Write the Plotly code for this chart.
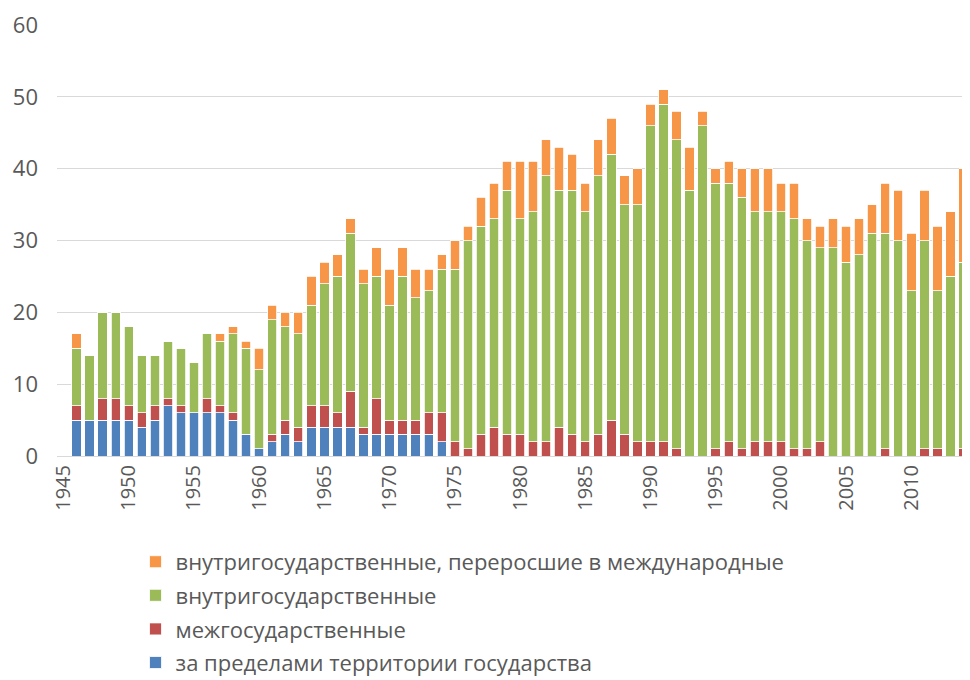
import plotly.graph_objects as go

years = list(range(1946, 2015))

# за пределами территории государства
extrastate = [5, 5, 5, 5, 5, 4, 5, 7, 6, 6, 6, 6, 5, 3, 1, 2, 3, 2, 4, 4,
              4, 4, 3, 3, 3, 3, 3, 3, 2, 0, 0, 0, 0, 0, 0, 0, 0, 0, 0, 0,
              0, 0, 0, 0, 0, 0, 0, 0, 0, 0, 0, 0, 0, 0, 0, 0, 0, 0, 0, 0,
              0, 0, 0, 0, 0, 0, 0, 0, 0]
# межгосударственные
interstate = [2, 0, 3, 3, 2, 2, 2, 1, 1, 0, 2, 1, 1, 0, 0, 1, 2, 2, 3, 3,
              2, 5, 1, 5, 2, 2, 2, 3, 4, 2, 1, 3, 4, 3, 3, 2, 2, 4, 3, 2,
              3, 5, 3, 2, 2, 2, 1, 0, 0, 1, 2, 1, 2, 2, 2, 1, 1, 2, 0, 0,
              0, 0, 1, 0, 0, 1, 1, 0, 1]
# внутригосударственные
internal = [8, 9, 12, 12, 11, 8, 7, 8, 8, 7, 9, 9, 11, 12, 11, 16, 13, 13, 14, 17,
            19, 22, 20, 17, 16, 20, 17, 17, 20, 24, 29, 29, 29, 34, 30, 32, 37, 33, 34, 32,
            36, 37, 32, 33, 44, 47, 43, 37, 46, 37, 36, 35, 32, 32, 32, 32, 29, 27, 29, 27,
            28, 31, 30, 30, 23, 29, 22, 25, 26]
# внутригосударственные, переросшие в международные
internationalized = [2, 0, 0, 0, 0, 0, 0, 0, 0, 0, 0, 1, 1, 1, 3, 2, 2, 3, 4, 3,
                     3, 2, 2, 4, 5, 4, 4, 3, 2, 4, 2, 4, 5, 4, 8, 7, 5, 6, 5, 4,
                     5, 5, 4, 5, 3, 2, 4, 6, 2, 2, 3, 4, 6, 6, 4, 5, 3, 3, 4, 5,
                     5, 4, 7, 7, 8, 7, 9, 9, 13]

series = [
    ("за пределами территории государства", extrastate, "#4F81BD"),
    ("межгосударственные", interstate, "#C0504D"),
    ("внутригосударственные", internal, "#9BBB59"),
    ("внутригосударственные, переросшие в международные", internationalized, "#F79646"),
]

tick_years = list(range(1945, 2011, 5))

fig = go.Figure()
for i, (name, values, color) in enumerate(series):
    fig.add_trace(
        go.Bar(
            x=years,
            y=values,
            name=name,
            legendgroup=name,
            legendrank=1000 - i,  # top of the stack first in the legend
            marker=dict(color=color, line=dict(color="white", width=0.8)),
        )
    )

# the page body adds an 8px margin, so the figure is a little smaller
fig.update_layout(
    barmode="stack",
    bargap=0.28,
    width=962,
    height=672,
    margin=dict(l=49, r=0, t=17, b=224, autoexpand=False),
    paper_bgcolor="white",
    plot_bgcolor="white",
    font=dict(family="Open Sans, sans-serif", size=21, color="#595959"),
    showlegend=True,
    legend=dict(
        orientation="v",
        traceorder="grouped",
        x=0.086,
        xanchor="left",
        y=-0.197,
        yanchor="top",
        tracegroupgap=2,
        font=dict(size=22, color="#595959"),
        itemwidth=30,
    ),
    xaxis=dict(
        range=[1944.5, 2014.5],
        tickmode="array",
        tickvals=tick_years,
        ticktext=[str(y) for y in tick_years],
        tickangle=-90,
        showgrid=False,
        showline=True,
        linecolor="#D9D9D9",
        ticks="",
        zeroline=False,
        tickfont=dict(size=20),
    ),
    yaxis=dict(
        range=[0, 60],
        dtick=10,
        showgrid=True,
        gridcolor="#D9D9D9",
        gridwidth=1,
        zeroline=False,
        ticks="",
        ticklabelstandoff=18,
        tickfont=dict(size=22),
    ),
)

fig.write_html("out.html")
